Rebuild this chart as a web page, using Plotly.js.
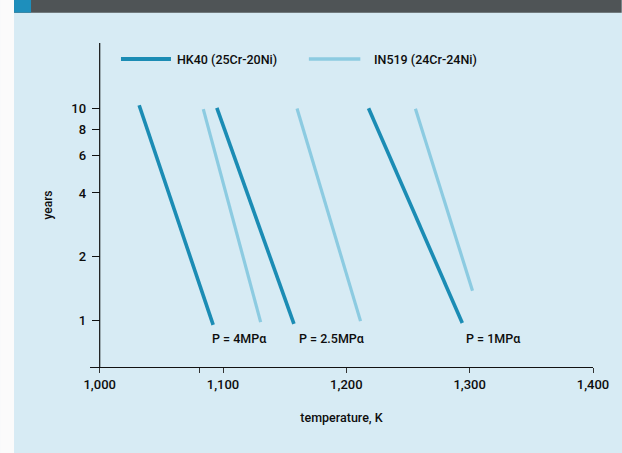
<!DOCTYPE html>
<html>
<head>
<meta charset="utf-8">
<script src="https://cdn.plot.ly/plotly-3.0.1.min.js"></script>
<style>html,body{margin:0;padding:0;background:#fff;}#chart{width:622px;height:453px;}</style>
</head>
<body>
<div id="chart"></div>
<script>
// ---- data ----
const seriesNames = ['HK40 (25Cr-20Ni)', 'IN519 (24Cr-24Ni)'];
const pressureLabels = ['P = 4MP\u03b1', 'P = 2.5MP\u03b1', 'P = 1MP\u03b1'];
const pressureLabelTemp = [1113, 1188, 1318.6];
const pressureLabelYears = [0.82, 0.82, 0.82];

// each line: [start, end] for P = 4, 2.5, 1 MPa
const hk40Temp  = [[1032, 1092], [1095, 1157.5], [1218, 1294]];
const hk40Years = [[10.4, 0.95], [10.1, 0.96], [10.07, 0.97]];
const in519Temp  = [[1084, 1130.5], [1160, 1211.5], [1256, 1302.3]];
const in519Years = [[9.97, 0.98], [10.03, 0.99], [10.0, 1.38]];

const xTickVals = [1000, 1081, 1100, 1200, 1300, 1400];
const xTickText = ['1,000', '', '1,100', '1,200', '1,300', '1,400'];
const yTickVals = [1, 2, 4, 6, 8, 10];
const yTickText = ['1', '2', '4', '6', '8', '10'];

// ---- layout geometry (pixels) ----
const W = 622, H = 453;
const L = 90, R = 593.3, T = 43.3, B = 366.7;
const px2paperX = p => (p - L) / (R - L);
const px2paperY = p => (B - p) / (B - T);

const dark = '#1b8cb4', light = '#8ccbe1', bg = '#d7ebf4';
const FONT = 'Roboto, Liberation Sans, Arial, sans-serif';
const TXT = '#0d0d0d';

function joinSegments(temps, years) {
  const x = [], y = [];
  temps.forEach((t, i) => {
    if (i > 0) { x.push(null); y.push(null); }
    x.push(t[0], t[1]); y.push(years[i][0], years[i][1]);
  });
  return {x, y};
}
const hk = joinSegments(hk40Temp, hk40Years);
const inn = joinSegments(in519Temp, in519Years);

const traces = [
  {x: hk.x, y: hk.y, name: seriesNames[0], mode: 'lines', type: 'scatter',
   line: {color: dark, width: 3.6}, connectgaps: false, showlegend: false, hoverinfo: 'skip'},
  {x: inn.x, y: inn.y, name: seriesNames[1], mode: 'lines', type: 'scatter',
   line: {color: light, width: 3.2}, connectgaps: false, showlegend: false, hoverinfo: 'skip'}
];

const shapes = [
  {type: 'rect', xref: 'paper', yref: 'paper', x0: px2paperX(0), x1: px2paperX(14),
   y0: px2paperY(H), y1: px2paperY(0), fillcolor: '#fbfbfb', line: {width: 0}, layer: 'below'},
  {type: 'rect', xref: 'paper', yref: 'paper', x0: px2paperX(14), x1: px2paperX(W),
   y0: px2paperY(13), y1: px2paperY(0), fillcolor: '#4f5456', line: {width: 0}, layer: 'below'},
  {type: 'rect', xref: 'paper', yref: 'paper', x0: px2paperX(14), x1: px2paperX(31),
   y0: px2paperY(13), y1: px2paperY(0), fillcolor: '#1e8fbc', line: {width: 0}, layer: 'below'},
  {type: 'line', xref: 'x', yref: 'paper', x0: 1000, x1: 1000, y0: 0, y1: 1,
   line: {color: '#111', width: 1.2}},
  {type: 'line', xref: 'paper', yref: 'paper', x0: px2paperX(121), x1: px2paperX(171),
   y0: px2paperY(59.3), y1: px2paperY(59.3), line: {color: dark, width: 4}},
  {type: 'line', xref: 'paper', yref: 'paper', x0: px2paperX(309), x1: px2paperX(360.5),
   y0: px2paperY(59.3), y1: px2paperY(59.3), line: {color: light, width: 3.6}}
];

const lblFont = {family: FONT, size: 12.5, color: TXT, weight: 500};
const annotations = [
  {xref: 'paper', yref: 'paper', x: px2paperX(175.5), y: px2paperY(59.5), xanchor: 'left', yanchor: 'middle',
   text: seriesNames[0], showarrow: false, font: lblFont},
  {xref: 'paper', yref: 'paper', x: px2paperX(372.5), y: px2paperY(59.5), xanchor: 'left', yanchor: 'middle',
   text: seriesNames[1], showarrow: false, font: lblFont}
];
pressureLabels.forEach((t, i) => annotations.push({
  x: pressureLabelTemp[i], y: Math.log10(pressureLabelYears[i]), xref: 'x', yref: 'y',
  text: t, showarrow: false, xanchor: 'center', yanchor: 'middle', font: lblFont
}));

const tickFont = {family: FONT, size: 13, color: TXT, weight: 500};
const layout = {
  width: W, height: H,
  margin: {l: L, r: W - R, t: T, b: H - B, pad: 0},
  paper_bgcolor: bg, plot_bgcolor: 'rgba(0,0,0,0)',
  font: {family: FONT, size: 13, color: TXT},
  showlegend: false,
  xaxis: {
    range: [1000 - (99.7 - L) / 1.234, 1400],
    tickvals: xTickVals, ticktext: xTickText,
    showgrid: false, zeroline: false,
    showline: true, linecolor: '#111', linewidth: 1.2,
    ticks: 'outside', ticklen: 5, tickcolor: '#333', tickwidth: 1,
    tickfont: tickFont,
    title: {text: 'temperature, K', font: {family: FONT, size: 12.5, color: TXT, weight: 500}, standoff: 22},
    automargin: false, fixedrange: true
  },
  yaxis: {
    type: 'log', range: [-0.2213, 1.3114],
    anchor: 'free', position: (99.7 - L) / (R - L),
    tickvals: yTickVals, ticktext: yTickText,
    showgrid: false, zeroline: false, showline: false,
    ticks: 'outside', ticklen: 8, tickcolor: '#111', tickwidth: 1,
    tickfont: tickFont,
    ticklabelstandoff: 3,
    title: {text: 'years', font: {family: FONT, size: 12, color: TXT, weight: 500}, standoff: 15},
    automargin: false, fixedrange: true
  },
  shapes: shapes,
  annotations: annotations
};

Plotly.newPlot('chart', traces, layout, {displayModeBar: false, staticPlot: true});
</script>
</body>
</html>
